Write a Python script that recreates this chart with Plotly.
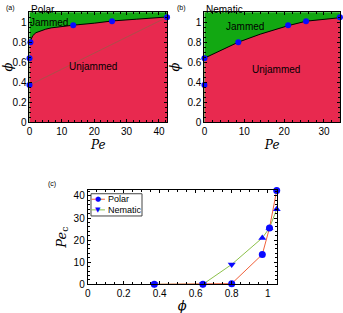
import plotly.graph_objects as go

# ---- data ----
# panel (a) Polar: jamming points (Pe, phi)
polar_pe = [0, 0, 0.3, 13.5, 25.5, 42.5]
polar_phi = [0.37, 0.64, 0.80, 0.97, 1.01, 1.05]
# boundary curve
polar_bnd_pe = [0, 0.3, 1, 2, 3.4, 5, 6.7, 10, 13.5, 20, 25.5, 33, 42.5]
polar_bnd_phi = [0.79, 0.81, 0.865, 0.895, 0.915, 0.93, 0.943, 0.957, 0.97, 0.99, 1.012, 1.03, 1.052]

# panel (b) Nematic
nem_pe = [0, 0, 8.5, 21.0, 25.5, 34.0]
nem_phi = [0.37, 0.64, 0.80, 0.97, 1.01, 1.05]
nem_bnd_pe = [0, 8.5, 14, 21.0, 25.5, 34.0]
nem_bnd_phi = [0.64, 0.80, 0.88, 0.965, 1.01, 1.045]

# panel (c) Pe_c vs phi
phi_vals = [0.37, 0.64, 0.80, 0.97, 1.01, 1.05]
pec_polar = [0, 0, 0.3, 13.5, 25.5, 42.5]
pec_nem = [0, 0, 9.0, 21.0, 25.5, 34.0]
nem_symbols = ["triangle-down", "triangle-down", "triangle-down", "triangle-up", "triangle-up", "triangle-up"]
legend_names = ["Polar", "Nematic"]

GREEN = "#12a812"
RED = "#e8294f"
BLUE = "#0a0aff"
POLAR_LINE = "#f0603a"
NEM_LINE = "#8cc04a"
FONT = "Liberation Sans, Arial, sans-serif"
SERIF = "DejaVu Serif, serif"

fig = go.Figure()

# ---- panel a ----
fig.add_trace(go.Scatter(x=polar_bnd_pe, y=polar_bnd_phi, mode="lines", fill="tozeroy",
                         fillcolor=RED, line=dict(color="black", width=1),
                         xaxis="x", yaxis="y", showlegend=False, hoverinfo="skip"))
fig.add_trace(go.Scatter(x=[polar_pe[0], polar_pe[-1]], y=[polar_phi[0], polar_phi[-1]], mode="lines",
                         line=dict(color="#9a5a48", width=0.8), xaxis="x", yaxis="y", showlegend=False))
fig.add_trace(go.Scatter(x=polar_pe, y=polar_phi, mode="markers",
                         marker=dict(color=BLUE, size=6, symbol="circle"),
                         xaxis="x", yaxis="y", showlegend=False, cliponaxis=False))

# ---- panel b ----
fig.add_trace(go.Scatter(x=nem_bnd_pe, y=nem_bnd_phi, mode="lines", fill="tozeroy",
                         fillcolor=RED, line=dict(color="black", width=1),
                         xaxis="x2", yaxis="y2", showlegend=False, hoverinfo="skip"))
fig.add_trace(go.Scatter(x=nem_pe, y=nem_phi, mode="markers",
                         marker=dict(color=BLUE, size=6, symbol="circle"),
                         xaxis="x2", yaxis="y2", showlegend=False, cliponaxis=False))

# ---- panel c ----
fig.add_trace(go.Scatter(x=phi_vals, y=pec_nem, mode="lines+markers", name=legend_names[1],
                         line=dict(color=NEM_LINE, width=1),
                         marker=dict(color=BLUE, size=7, symbol=nem_symbols),
                         xaxis="x3", yaxis="y3", cliponaxis=False, showlegend=False))
fig.add_trace(go.Scatter(x=phi_vals, y=pec_polar, mode="lines+markers", name=legend_names[0],
                         line=dict(color=POLAR_LINE, width=1),
                         marker=dict(color=BLUE, size=7, symbol="circle"),
                         xaxis="x3", yaxis="y3", cliponaxis=False, showlegend=False))

# compact legend for panel c (paper coordinates)
leg_x0, leg_x1 = 0.2653, 0.414
leg_y0, leg_y1 = 0.310, 0.381
row_y = [0.3635, 0.3295]
line_x = [0.2668, 0.306]
leg_colors = [POLAR_LINE, NEM_LINE]
leg_syms = ["●", "▼"]

shapes = [
    dict(type="rect", xref="x domain", yref="y domain", x0=0, x1=1, y0=0, y1=1,
         fillcolor=GREEN, line=dict(width=0), layer="below"),
    dict(type="rect", xref="x2 domain", yref="y2 domain", x0=0, x1=1, y0=0, y1=1,
         fillcolor=GREEN, line=dict(width=0), layer="below"),
    dict(type="rect", xref="paper", yref="paper", x0=leg_x0, x1=leg_x1, y0=leg_y0, y1=leg_y1,
         fillcolor="white", line=dict(color="#444", width=1), layer="above"),
]
annotations = []
for i, name in enumerate(legend_names):
    shapes.append(dict(type="line", xref="paper", yref="paper", x0=line_x[0], x1=line_x[1],
                       y0=row_y[i], y1=row_y[i], line=dict(color=leg_colors[i], width=1), layer="above"))
    annotations.append(dict(text=leg_syms[i],
                            x=(line_x[0] + line_x[1]) / 2, y=row_y[i], xref="paper", yref="paper",
                            xanchor="center", yanchor="middle",
                            showarrow=False, font=dict(family="DejaVu Sans", size=7, color=BLUE)))
    annotations.append(dict(text=name, x=line_x[1] + 0.002, y=row_y[i], xref="paper", yref="paper",
                            xanchor="left", yanchor="middle",
                            showarrow=False, font=dict(family=FONT, size=9, color="black")))

tickfont = dict(family=FONT, size=10, color="black")
common = dict(showline=True, linecolor="black", linewidth=1, mirror="ticks", ticks="inside",
              ticklen=3, tickcolor="black", tickfont=tickfont, showgrid=False, zeroline=False,
              automargin=False)
minor_x = dict(ticks="inside", ticklen=2, tickcolor="black")

annotations += [
    dict(text="(a)", x=0.012, y=0.995, xref="paper", yref="paper", xanchor="left", yanchor="top",
         showarrow=False, font=dict(family=FONT, size=7)),
    dict(text="Polar", x=0.084, y=0.993, xref="paper", yref="paper", xanchor="left", yanchor="top",
         showarrow=False, font=dict(family=FONT, size=10)),
    dict(text="(b)", x=0.51, y=0.995, xref="paper", yref="paper", xanchor="left", yanchor="top",
         showarrow=False, font=dict(family=FONT, size=7)),
    dict(text="Nematic", x=0.594, y=0.993, xref="paper", yref="paper", xanchor="left", yanchor="top",
         showarrow=False, font=dict(family=FONT, size=10)),
    dict(text="(c)", x=0.135, y=0.43, xref="paper", yref="paper", xanchor="left", yanchor="top",
         showarrow=False, font=dict(family=FONT, size=7)),
    dict(text="Jammed", x=6.0, y=1.0, xref="x", yref="y", showarrow=False,
         xanchor="center", yanchor="middle", font=dict(family=FONT, size=10)),
    dict(text="Unjammed", x=19.6, y=0.557, xref="x", yref="y", showarrow=False,
         xanchor="center", yanchor="middle", font=dict(family=FONT, size=10)),
    dict(text="Jammed", x=10.1, y=0.96, xref="x2", yref="y2", showarrow=False,
         xanchor="center", yanchor="middle", font=dict(family=FONT, size=10)),
    dict(text="Unjammed", x=18.0, y=0.53, xref="x2", yref="y2", showarrow=False,
         xanchor="center", yanchor="middle", font=dict(family=FONT, size=10)),
]

fig.update_layout(
    template="none",
    width=343, height=313, margin=dict(l=0, r=0, t=0, b=0),
    font=dict(family=FONT, color="black"),
    paper_bgcolor="white", plot_bgcolor="rgba(0,0,0,0)",
    xaxis=dict(domain=[0.086, 0.487], anchor="y", range=[0, 42.5], dtick=10,
               minor=dict(dtick=2, **minor_x),
               title=dict(text="<i>Pe</i>", font=dict(family=SERIF, size=12), standoff=4), **common),
    yaxis=dict(domain=[0.610, 0.961], anchor="x", range=[0, 1.1], dtick=0.2,
               minor=dict(dtick=0.05, **minor_x),
               title=dict(text="<i>ϕ</i>", font=dict(family=SERIF, size=13), standoff=4), **common),
    xaxis2=dict(domain=[0.596, 0.991], anchor="y2", range=[0, 34], dtick=10,
                minor=dict(dtick=2, **minor_x),
                title=dict(text="<i>Pe</i>", font=dict(family=SERIF, size=12), standoff=4), **common),
    yaxis2=dict(domain=[0.610, 0.961], anchor="x2", range=[0, 1.1], dtick=0.2,
                minor=dict(dtick=0.05, **minor_x),
                title=dict(text="<i>ϕ</i>", font=dict(family=SERIF, size=13), standoff=4), **common),
    xaxis3=dict(domain=[0.2557, 0.8067], anchor="y3", range=[0, 1.05], dtick=0.2,
                minor=dict(dtick=0.05, **minor_x),
                title=dict(text="<i>ϕ</i>", font=dict(family=SERIF, size=13), standoff=4), **common),
    yaxis3=dict(domain=[0.0917, 0.393], anchor="x3", range=[0, 42.7], dtick=10,
                minor=dict(dtick=2, **minor_x),
                title=dict(text="<i>Pe</i><sub>c</sub>", font=dict(family=SERIF, size=13), standoff=4), **common),
    shapes=shapes,
    annotations=annotations,
)

fig.write_html("out.html", config={"displayModeBar": False},
               post_script="document.body.style.margin='0';document.body.style.overflow='hidden';")
